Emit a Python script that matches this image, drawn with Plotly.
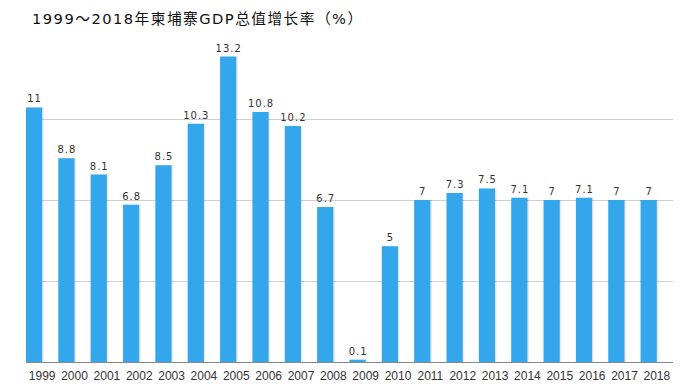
import plotly.graph_objects as go

years = [str(y) for y in range(1999, 2019)]
growth = [11, 8.8, 8.1, 6.8, 8.5, 10.3, 13.2, 10.8, 10.2, 6.7,
          0.1, 5, 7, 7.3, 7.5, 7.1, 7, 7.1, 7, 7]
labels = ["11", "8.8", "8.1", "6.8", "8.5", "10.3", "13.2", "10.8", "10.2", "6.7",
          "0.1", "5", "7", "7.3", "7.5", "7.1", "7", "7.1", "7", "7"]
title = "1999～2018年柬埔寨GDP总值增长率（%）"

HAIR = "\u200a"
spaced_title = HAIR.join(title)
spaced_labels = [HAIR.join(t) for t in labels]

pos = list(range(len(years)))

fig = go.Figure()
# soft shadow
fig.add_trace(go.Bar(
    x=pos, y=growth, width=0.56, offset=-0.01,
    marker=dict(color="rgba(0,0,0,0.08)", line=dict(width=0)),
    hoverinfo="skip", showlegend=False,
))
fig.add_trace(go.Bar(
    x=pos, y=growth, width=0.5, offset=0.0,
    marker=dict(color="#33A6EC", line=dict(width=0)),
    text=spaced_labels, textposition="outside", cliponaxis=False, constraintext="none",
    textfont=dict(family="DejaVu Sans", size=10, color="#333333"),
    showlegend=False,
))

fig.update_layout(
    width=691, height=388,
    margin=dict(l=26, r=18, t=38, b=25.5, autoexpand=False),
    plot_bgcolor="white", paper_bgcolor="white",
    barmode="overlay",
    title=dict(text=spaced_title, x=0, xref="paper", xanchor="left",
               y=1 - 19 / 388, yref="container", yanchor="middle",
               font=dict(family="DejaVu Sans, Noto Sans CJK SC", size=14.7, color="#111111"),
               pad=dict(l=6)),
    xaxis=dict(range=[0, 20], tickmode="array",
               tickvals=[p + 0.5 for p in pos], ticktext=years,
               showgrid=False, zeroline=False, showline=True, automargin=False,
               linecolor="#888888", linewidth=1,
               ticks="outside", ticklen=3, tickcolor="rgba(0,0,0,0)",
               tickfont=dict(family="Liberation Sans Narrow, Liberation Sans", size=12, color="#333333")),
    yaxis=dict(range=[0, 14], tickmode="array", tickvals=[3.5, 7, 10.5],
               showticklabels=False, showgrid=True, gridcolor="#D0D0D0",
               gridwidth=1, zeroline=False, showline=False, automargin=False),
)

fig.write_html("out.html", config={"displayModeBar": False},
               post_script="document.body.style.margin='0';")
